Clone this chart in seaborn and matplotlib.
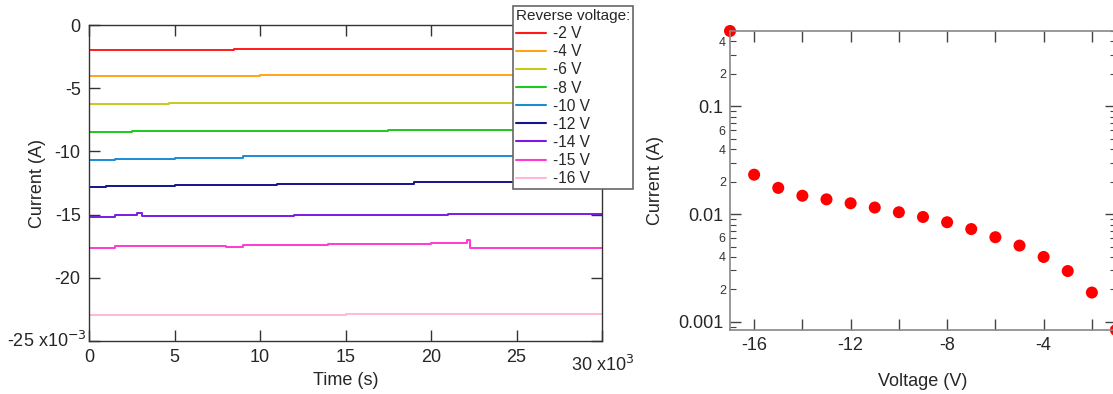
import numpy as np
import pandas as pd
import seaborn as sns
import matplotlib.pyplot as plt
from matplotlib.ticker import FixedLocator, FuncFormatter, NullFormatter

# time-series traces (time in 1e3 s, current in 1e-3 A), read as step levels
labels = ['-2 V', '-4 V', '-6 V', '-8 V', '-10 V', '-12 V', '-14 V', '-15 V', '-16 V']
colors = ['#ff1a1a', '#ffa41a', '#c8c81a', '#1ec81e', '#1a8cd6',
          '#14148c', '#7a1ae6', '#ff3ad2', '#ffb8d8']

t_2v = [0, 8.5, 30]
i_2v = [-1.95, -1.9, -1.9]
t_4v = [0, 10, 30]
i_4v = [-4.05, -3.95, -3.95]
t_6v = [0, 4.7, 14.7, 30]
i_6v = [-6.25, -6.2, -6.15, -6.15]
t_8v = [0, 2.5, 6.8, 17.5, 30]
i_8v = [-8.5, -8.42, -8.35, -8.3, -8.3]
t_10v = [0, 1.5, 5, 9, 24.7, 30]
i_10v = [-10.7, -10.6, -10.5, -10.4, -10.35, -10.35]
t_12v = [0, 1, 5, 11, 19, 30]
i_12v = [-12.85, -12.75, -12.65, -12.55, -12.45, -12.45]
t_14v = [0, 1.5, 2.8, 3.1, 12, 21, 30]
i_14v = [-15.2, -15.0, -14.85, -15.15, -15.05, -14.92, -14.92]
t_15v = [0, 1.5, 3, 8, 9, 14, 20, 22.1, 22.3, 30]
i_15v = [-17.65, -17.5, -17.45, -17.55, -17.4, -17.35, -17.28, -17.0, -17.62, -17.62]
t_16v = [0, 15, 30]
i_16v = [-22.92, -22.85, -22.85]

times = [t_2v, t_4v, t_6v, t_8v, t_10v, t_12v, t_14v, t_15v, t_16v]
currents = [i_2v, i_4v, i_6v, i_8v, i_10v, i_12v, i_14v, i_15v, i_16v]

# I-V points (voltage in V, current in A)
voltage = [-17, -16, -15, -14, -13, -12, -11, -10, -9, -8, -7, -6, -5, -4, -3, -2, -1]
current = [0.5, 0.0232, 0.0175, 0.0148, 0.0137, 0.0126, 0.0115, 0.0104, 0.0094,
           0.0084, 0.00726, 0.0061, 0.0051, 0.0040, 0.00296, 0.00187, 0.00084]

rows = []
for lab, ts, cs in zip(labels, times, currents):
    for t, c in zip(ts, cs):
        rows.append({'Time': t, 'Current': c, 'Voltage': lab})
df = pd.DataFrame(rows)
iv = pd.DataFrame({'Voltage': voltage, 'Current': current})

sns.set_style('ticks')
plt.rcParams['font.family'] = ['Liberation Sans', 'DejaVu Sans']
plt.rcParams['axes.unicode_minus'] = False

W, H = 1113, 394
fig = plt.figure(figsize=(W / 100, H / 100), dpi=100)

# ---- left panel
ax1 = fig.add_axes([89 / W, 1 - 341 / H, (602 - 89) / W, (341 - 25) / H])
sns.lineplot(data=df, x='Time', y='Current', hue='Voltage', palette=colors,
             estimator=None, sort=False, drawstyle='steps-post', lw=1.4,
             legend=False, ax=ax1)
ax1.set_xlim(0, 30)
ax1.set_ylim(-25, 0)
ax1.set_xticks([0, 5, 10, 15, 20, 25, 30])
ax1.set_xticklabels(['0', '5', '10', '15', '20', '25', ''])
ax1.set_yticks([0, -5, -10, -15, -20, -25])
ax1.set_yticklabels(['0', '-5', '-10', '-15', '-20', ''])
ax1.tick_params(direction='in', length=8, width=1, labelsize=13, pad=6,
                top=True, right=True, color='#333333')
ax1.text(-0.004, 0.0, '-25 x10$^{-3}$', transform=ax1.transAxes,
         ha='right', va='center', fontsize=13)
ax1.text((571 - 89) / (602 - 89), -0.076, '30 x10$^{3}$',
         transform=ax1.transAxes, ha='left', va='center', fontsize=13)
ax1.set_xlabel('Time (s)', fontsize=13, labelpad=4)
ax1.set_ylabel('Current (A)', fontsize=13, labelpad=6)
for s in ax1.spines.values():
    s.set_color('#333333')
    s.set_linewidth(1)

handles = [plt.Line2D([], [], color=c, lw=1.5) for c in colors]
leg = fig.legend(handles, labels, title='Reverse voltage:', loc='upper left',
                 bbox_to_anchor=(513 / W, 1 - 6 / H), borderaxespad=0,
                 fontsize=11.2, title_fontsize=11, handlelength=1.9,
                 labelspacing=0.2, handletextpad=0.45, borderpad=0.2,
                 fancybox=False, framealpha=1, edgecolor='#666666')
leg._legend_box.align = 'left'
leg.get_frame().set_linewidth(1.2)

# ---- right panel
ax2 = fig.add_axes([730 / W, 1 - 330 / H, (1116 - 730) / W, (330 - 31) / H])
sns.scatterplot(data=iv, x='Voltage', y='Current', color='#ff0000', s=75,
                edgecolor='none', clip_on=False, ax=ax2)
ax2.set_yscale('log')
ax2.set_xlim(-17, -1)
ax2.set_ylim(0.00084, 0.5)
ax2.set_xticks([-16, -12, -8, -4])
ax2.xaxis.set_minor_locator(FixedLocator([-14, -10, -6, -2]))
ax2.set_yticks([0.001, 0.01, 0.1])
ax2.set_yticklabels(['0.001', '0.01', '0.1'])
minors = [m * 10.0 ** k for k in (-4, -3, -2, -1) for m in range(2, 10)]
ax2.yaxis.set_minor_locator(FixedLocator(minors))


def minor_label(v, pos):
    m = round(v / 10 ** np.floor(np.log10(v) + 1e-9))
    return str(m) if m in (2, 4, 6) else ''


ax2.yaxis.set_minor_formatter(FuncFormatter(minor_label))
ax2.xaxis.set_minor_formatter(NullFormatter())
ax2.tick_params(which='major', direction='in', length=8, width=1, labelsize=13,
                pad=5, top=True, right=True, color='#444444')
ax2.tick_params(axis='x', which='minor', direction='in', length=8, width=1,
                top=True, color='#444444')
ax2.tick_params(axis='y', which='minor', direction='in', length=4, width=0.8,
                labelsize=9, pad=3, right=True, color='#444444',
                labelcolor='#333333')
ax2.set_xlabel('Voltage (V)', fontsize=13, labelpad=14)
ax2.set_ylabel('Current (A)', fontsize=13, labelpad=10)
for s in ax2.spines.values():
    s.set_color('#888888')
    s.set_linewidth(1.2)

fig.savefig('out.png', dpi=100)
